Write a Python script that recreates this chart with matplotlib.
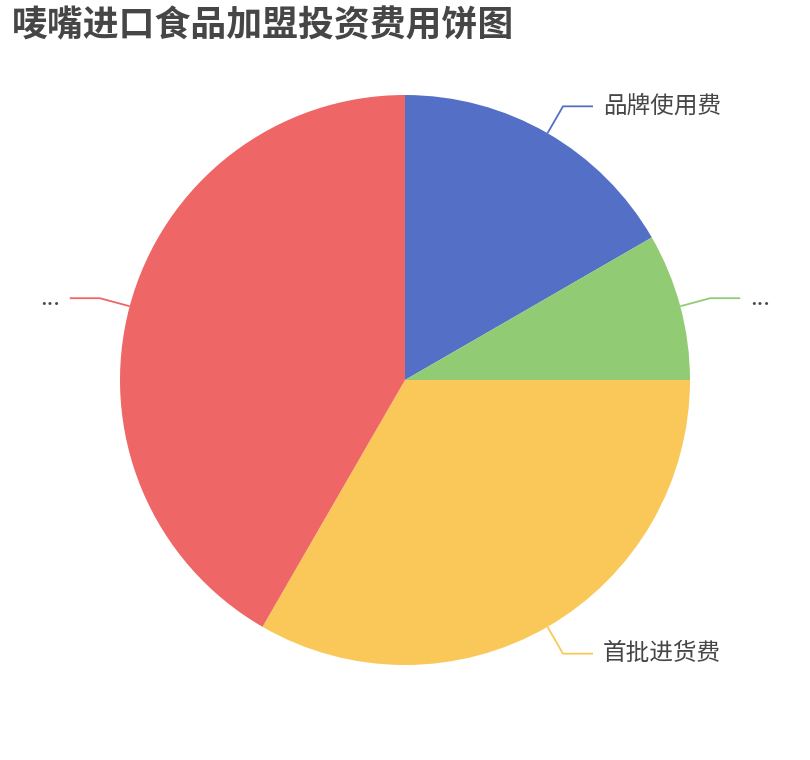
import numpy as np
import matplotlib.pyplot as plt

plt.rcParams['font.family'] = ['Noto Sans CJK SC', 'DejaVu Sans']

W, H = 810, 760
title = "唛嘴进口食品加盟投资费用饼图"

# slices, clockwise from 12 o'clock
names = ["品牌使用费", "...", "首批进货费", "..."]
values = [2, 1, 4, 5]
colors = ["#5470c6", "#91cc75", "#fac858", "#ee6666"]

cx, cy, r = 405, 380, 285

fig = plt.figure(figsize=(W / 100, H / 100), dpi=100)
ax = fig.add_axes([0, 0, 1, 1])

wedges, _ = ax.pie(values, colors=colors, startangle=90, counterclock=False,
                   center=(cx, H - cy), radius=r,
                   wedgeprops=dict(linewidth=0))

# leader lines + labels
for w, name, c in zip(wedges, names, colors):
    mid = np.deg2rad((w.theta1 + w.theta2) / 2)
    x0 = cx + r * np.cos(mid)
    y0 = (H - cy) + r * np.sin(mid)
    x1 = x0 + 31 * np.cos(mid)
    y1 = y0 + 31 * np.sin(mid)
    side = 1 if np.cos(mid) >= 0 else -1
    x2 = x1 + 30 * side
    ax.plot([x0, x1, x2], [y0, y1, y1], color=c, lw=1.3, solid_capstyle='butt')
    ax.text(x2 + 10 * side, y1, name, fontsize=17, color="#464646",
            ha='left' if side > 0 else 'right', va='center')

ax.set_xlim(0, W)
ax.set_ylim(0, H)
ax.set_aspect('equal')
ax.axis('off')

fig.text(12 / W, 1 - 26 / H, title, fontsize=25.8, fontweight='bold',
         color="#464646", ha='left', va='center')

fig.savefig("out.png", dpi=100)
